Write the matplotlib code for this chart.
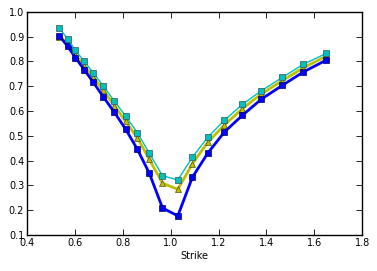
import matplotlib
matplotlib.use("Agg")
import matplotlib.pyplot as plt

strike = [0.535, 0.570, 0.602, 0.639, 0.677, 0.719, 0.765, 0.812, 0.861, 0.911,
          0.966, 1.030, 1.091, 1.155, 1.225, 1.300, 1.379, 1.467, 1.555, 1.651]
blue_vals = [0.904, 0.861, 0.816, 0.767, 0.716, 0.657, 0.595, 0.527, 0.446, 0.349,
             0.209, 0.177, 0.333, 0.430, 0.516, 0.583, 0.648, 0.704, 0.758, 0.806]
yellow_vals = [0.900, 0.872, 0.828, 0.783, 0.737, 0.683, 0.622, 0.558, 0.492, 0.405,
               0.309, 0.284, 0.387, 0.474, 0.544, 0.610, 0.669, 0.723, 0.775, 0.822]
cyan_vals = [0.935, 0.891, 0.845, 0.801, 0.754, 0.701, 0.640, 0.580, 0.513, 0.430,
             0.339, 0.322, 0.414, 0.494, 0.563, 0.627, 0.682, 0.736, 0.789, 0.833]

fig = plt.figure(figsize=(3.77, 2.71), dpi=100)
ax = fig.add_axes([0.0716, 0.133, 0.889, 0.823])

ax.plot(strike, yellow_vals, color='y', marker='^', lw=2, ms=5,
        mec='#555500', mew=0.5, zorder=2)
ax.plot(strike, blue_vals, color='b', marker='s', lw=2, ms=5,
        mec='#000055', mew=0.5, zorder=3)
ax.plot(strike, cyan_vals, color='c', marker='s', lw=1, ms=5,
        mec='#335555', mew=0.5, zorder=4)

ax.set_xlim(0.4, 1.8)
ax.set_ylim(0.1, 1.0)
ax.set_xticks([0.4, 0.6, 0.8, 1.0, 1.2, 1.4, 1.6, 1.8])
ax.set_yticks([0.1, 0.2, 0.3, 0.4, 0.5, 0.6, 0.7, 0.8, 0.9, 1.0])
ax.tick_params(direction='in', length=4, width=0.6, top=True, right=True,
               labelsize=7, pad=2)
for s in ax.spines.values():
    s.set_linewidth(1)
ax.set_xlabel('Strike', fontsize=7, labelpad=2)

fig.savefig('out.png', dpi=100, facecolor='white')
